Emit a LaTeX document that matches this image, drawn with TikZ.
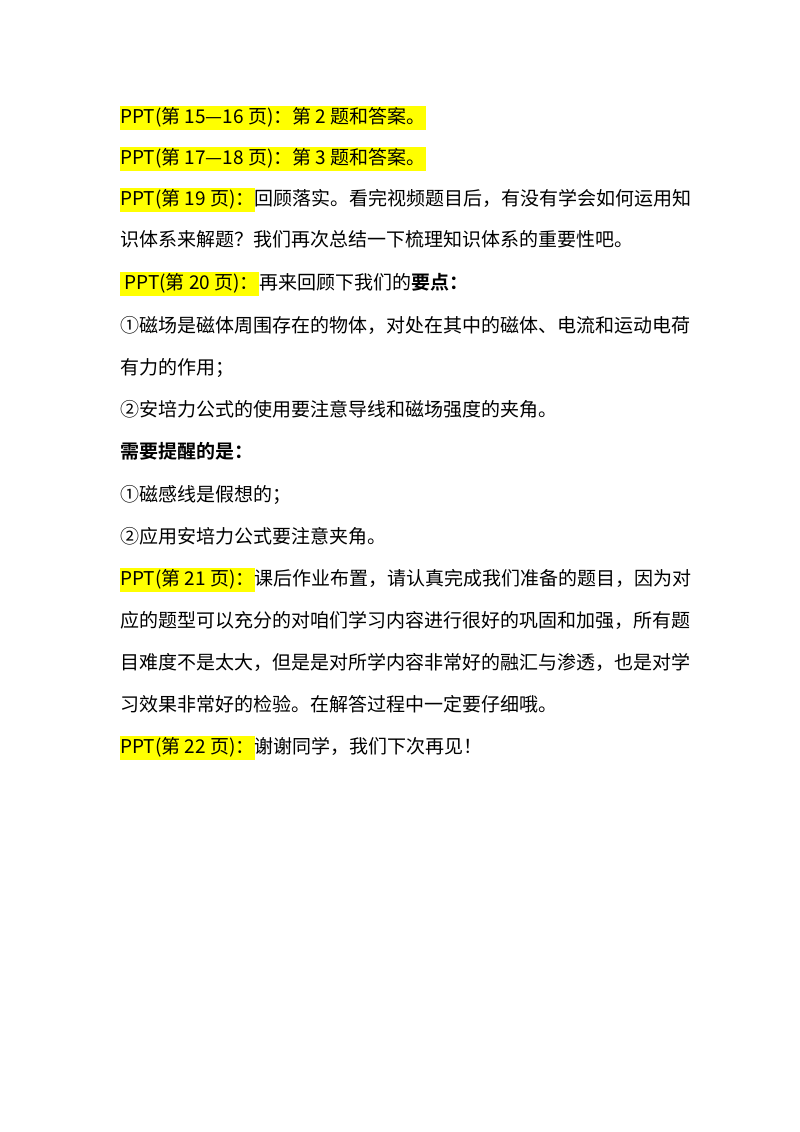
\documentclass[tikz,border=0pt]{standalone}
\usepackage{fontspec}
\setmainfont{Noto Sans CJK SC}[BoldFont={Noto Sans CJK SC Bold}]
\definecolor{hl}{RGB}{255,255,0}
\begin{document}
\begin{tikzpicture}[x=1pt,y=-1pt,
  txt/.style={anchor=west,inner sep=0pt,font=\fontsize{19}{19}\selectfont,text height=15pt,text depth=4pt},
  hlbox/.style={txt,fill=hl,text height=17pt,text depth=7pt}]
\useasboundingbox[fill=white] (0,0) rectangle (800,1132);
\node[hlbox] (h1) at (120,118) {PPT(第 15—16 页)：第 2 题和答案。};
\node[hlbox] (h2) at (120,159) {PPT(第 17—18 页)：第 3 题和答案。};
\node[hlbox] (h3) at (120,200) {PPT(第 19 页)：};
\node[txt] (t3) at (h3.east) {回顾落实。看完视频题目后，有没有学会如何运用知};
\node[txt] (t4) at (120,241) {识体系来解题？我们再次总结一下梳理知识体系的重要性吧。};
\node[hlbox] (h5) at (120,284) {\ PPT(第 20 页)：};
\node[txt] (t5) at (h5.east) {再来回顾下我们的\textbf{要点：}};
\node[txt] (t6) at (120,327) {①磁场是磁体周围存在的物体，对处在其中的磁体、电流和运动电荷};
\node[txt] (t7) at (120,369) {有力的作用；};
\node[txt] (t8) at (120,411) {②安培力公式的使用要注意导线和磁场强度的夹角。};
\node[txt] (t9) at (120,453) {\textbf{需要提醒的是：}};
\node[txt] (t10) at (120,496) {①磁感线是假想的；};
\node[txt] (t11) at (120,538) {②应用安培力公式要注意夹角。};
\node[hlbox] (h12) at (120,580) {PPT(第 21 页)：};
\node[txt] (t12) at (h12.east) {课后作业布置，请认真完成我们准备的题目，因为对};
\node[txt] (t13) at (120,622) {应的题型可以充分的对咱们学习内容进行很好的巩固和加强，所有题};
\node[txt] (t14) at (120,664) {目难度不是太大，但是是对所学内容非常好的融汇与渗透，也是对学};
\node[txt] (t15) at (120,706) {习效果非常好的检验。在解答过程中一定要仔细哦。};
\node[hlbox] (h16) at (120,748) {PPT(第 22 页)：};
\node[txt] (t16) at (h16.east) {谢谢同学，我们下次再见！};
\end{tikzpicture}
\end{document}
